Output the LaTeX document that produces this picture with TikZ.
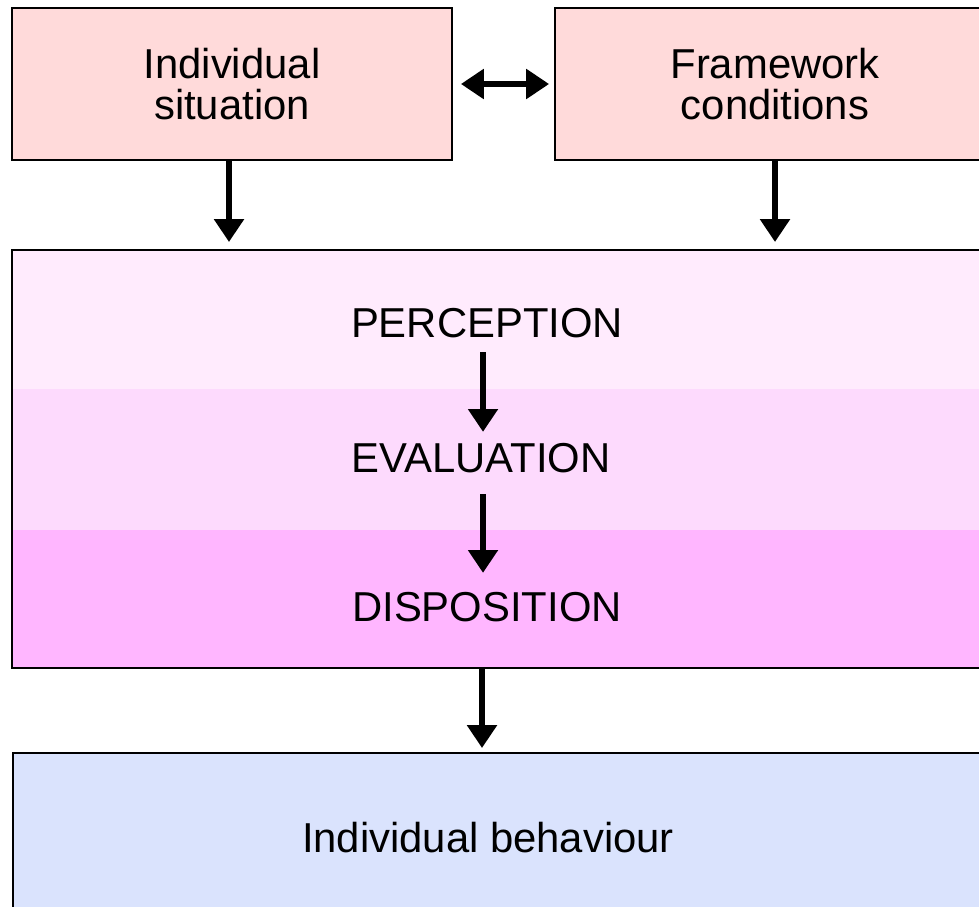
\documentclass[tikz,border=0pt]{standalone}
\usepackage{fontspec}
\setmainfont{Liberation Sans}
\usepackage{xcolor}
\usepackage{tikz}
\usetikzlibrary{arrows.meta}
\definecolor{topfill}{HTML}{FFDADA}
\definecolor{bandA}{HTML}{FFEBFD}
\definecolor{bandB}{HTML}{FDDAFD}
\definecolor{bandC}{HTML}{FFB6FF}
\definecolor{behfill}{HTML}{DAE3FD}
\tikzset{
box/.style = {rectangle, draw=black, line width=1.1pt, minimum width = #1,
              align=center, font=\fontsize{23.8}{23.5}\selectfont},
box/.default = 8.8cm, % width of the upper boxes
band/.style = {rectangle, fill=#1, inner sep=0pt, anchor=north west,
               minimum width=19.76cm},
stage/.style = {inner sep=0pt, font=\fontsize{23.8}{23.5}\selectfont},
arr/.style = {-{Triangle[length=13pt, width=16.4pt]}, line width=3.4pt}
}

\begin{document}
\begin{tikzpicture}[x=0.02cm, y=-0.02cm]
    \useasboundingbox (0,0) rectangle (979,906);
    \clip (0,0) rectangle (979,906);
    \node[box, fill=topfill, minimum height=3.04cm] (situation) at (232,84) {Individual\\situation};
    \node[box, fill=topfill, minimum height=3.04cm] (framework) at (775,84) {Framework\\conditions};

    \node[band=bandA, minimum height=2.78cm] (perception) at (12,250) {};
    \node[band=bandB, minimum height=2.82cm] (evaluation) at (12,389) {};
    \node[band=bandC, minimum height=2.74cm] (disposition) at (12,530) {};
    \draw[line width=1.1pt] (perception.north west) rectangle (disposition.south east);

    \node[stage] (percText) at (487,323) {PERCEPTION};
    \node[stage] (evalText) at (481,458) {EVALUATION};
    \node[stage] (dispText) at (487,607) {DISPOSITION};

    \node[box=19.76cm, fill=behfill, minimum height=3.44cm, anchor=north west] (behaviour) at (12,752) {};
    \node[stage] (behText) at (488,838) {Individual behaviour};

    \draw[{Triangle[length=13pt, width=16.4pt]}-{Triangle[length=13pt, width=16.4pt]}, line width=3.4pt,
          shorten <=0.16cm, shorten >=0.1cm] (situation.east) -- (framework.west);
    \draw[arr, shorten >=0.16cm] ([xshift=-0.06cm]situation.south) -- ([xshift=-0.06cm]situation.south |- perception.north);
    \draw[arr, shorten >=0.16cm] (framework.south) -- (framework.south |- perception.north);

    \draw[arr, shorten <=0.28cm, shorten >=0.22cm] ([xshift=-0.08cm]percText.south) -- ([xshift=-0.08cm]percText.south |- evalText.north);
    \draw[arr, shorten <=0.42cm, shorten >=0.38cm] ([xshift=0.04cm]evalText.south) -- ([xshift=0.04cm]evalText.south |- dispText.north);
    \draw[arr, shorten <=0.02cm, shorten >=0.08cm] ([xshift=-0.1cm]dispText.south |- disposition.south) -- ([xshift=-0.1cm]dispText.south |- behaviour.north);
\end{tikzpicture}
\end{document}
